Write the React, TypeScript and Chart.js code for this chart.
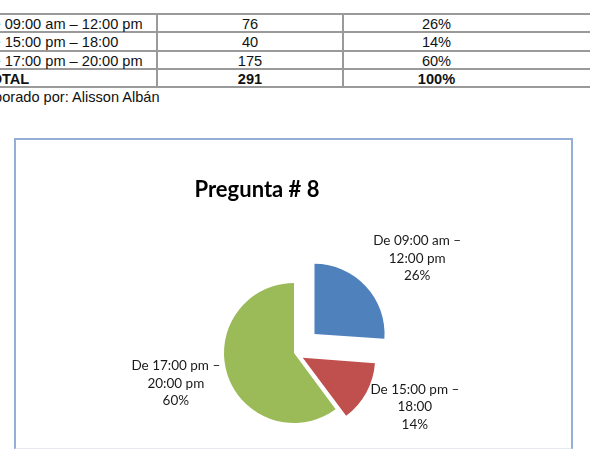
import React, { useEffect, useRef } from 'react';
import { Chart, registerables } from 'chart.js';

Chart.register(...registerables);

// ---- data ----
const categories = ['De 09:00 am – 12:00 pm', 'De 15:00 pm – 18:00', 'De 17:00 pm – 20:00 pm'];
const counts = [76, 40, 175];
const percentLabels = ['26%', '14%', '60%'];
const totalLabel = 'TOTAL';
const totalCount = 291;
const totalPercent = '100%';
const chartTitle = 'Pregunta # 8';
const sourceNote = 'Elaborado por: Alisson Albán';

// ---- style ----
const sliceColors = ['#4F81BD', '#C0504D', '#9BBB59'];
const explodePx = [28, 10, 0];
const labelNudge = [
  [12, -3],
  [3, -2],
  [0, -3],
];
const LABEL_FONT = '13.5px Lato, "Open Sans", sans-serif';
const TITLE_FONT = 'bold 22px Lato, "Open Sans", sans-serif';
const LABEL_LH = 17.5;
const LABEL_GAP = 10;
const LABEL_MAXW = 96;
const TITLE_Y = 50;

function wrap(ctx: CanvasRenderingContext2D, text: string, maxW: number): string[] {
  const words = text.split(' ');
  const lines: string[] = [];
  let cur = '';
  for (const w of words) {
    const t = cur ? cur + ' ' + w : w;
    if (cur && ctx.measureText(t).width > maxW) {
      lines.push(cur);
      cur = w;
    } else cur = t;
  }
  if (cur) lines.push(cur);
  return lines;
}

const sliceLabelPlugin = {
  id: 'sliceLabels',
  afterDatasetsDraw(chart: any) {
    const ctx: CanvasRenderingContext2D = chart.ctx;
    const meta = chart.getDatasetMeta(0);
    const labels: string[] = chart.data.labels;
    const data: number[] = chart.data.datasets[0].data;
    const total = data.reduce((a, b) => a + b, 0);
    ctx.save();
    // title, centred over the whole canvas
    ctx.font = TITLE_FONT;
    ctx.fillStyle = '#000';
    ctx.textAlign = 'center';
    ctx.textBaseline = 'middle';
    ctx.fillText(chartTitle, chart.width / 2, TITLE_Y);
    // slice labels
    ctx.font = LABEL_FONT;
    ctx.fillStyle = '#1a1a1a';
    meta.data.forEach((arc: any, i: number) => {
      const { x, y, startAngle, endAngle, outerRadius } = arc.getProps(
        ['x', 'y', 'startAngle', 'endAngle', 'outerRadius'],
        true
      );
      const mid = (startAngle + endAngle) / 2;
      const cs = Math.cos(mid);
      const sn = Math.sin(mid);
      const off = explodePx[i] || 0;
      const cx = x + cs * off;
      const cy = y + sn * off;
      const lines = [...wrap(ctx, labels[i], LABEL_MAXW), Math.round((data[i] / total) * 100) + '%'];
      const w = Math.max(...lines.map((l) => ctx.measureText(l).width));
      const h = lines.length * LABEL_LH;
      const px = cx + cs * (outerRadius + LABEL_GAP);
      const py = cy + sn * (outerRadius + LABEL_GAP);
      const bx = px + (cs * w) / 2 + labelNudge[i][0];
      const by = py + (sn * h) / 2 + labelNudge[i][1];
      lines.forEach((l, k) => ctx.fillText(l, bx, by - h / 2 + LABEL_LH * (k + 0.5)));
    });
    ctx.restore();
  },
};

function PieChart() {
  const ref = useRef<HTMLCanvasElement>(null);
  useEffect(() => {
    if (!ref.current) return;
    const chart = new Chart(ref.current, {
      type: 'pie',
      data: {
        labels: categories,
        datasets: [
          {
            data: counts,
            backgroundColor: sliceColors,
            borderWidth: 0,
            offset: explodePx.map((p) => p * 4),
          },
        ],
      },
      options: {
        responsive: false,
        animation: false,
        radius: 70,
        layout: { padding: { left: 74, top: 73 } },
        plugins: {
          legend: { display: false },
          tooltip: { enabled: false },
          title: { display: false },
        },
      } as any,
      plugins: [sliceLabelPlugin],
    });
    return () => chart.destroy();
  }, []);
  return (
    <canvas
      ref={ref}
      width={482}
      height={353}
      style={{ position: 'absolute', left: 16, top: 140, width: 482, height: 353 }}
    />
  );
}

const cellBase: React.CSSProperties = {
  border: '2px solid #9a9a9a',
  height: 14.3,
  padding: '2px 5px 0 5px',
  lineHeight: '14.3px',
  whiteSpace: 'nowrap',
};

export default function App() {
  const rows = categories.map((c, i) => [c, String(counts[i]), percentLabels[i]]);
  return (
    <div
      style={{
        position: 'fixed',
        left: 0,
        top: 0,
        width: 590,
        height: 449,
        overflow: 'hidden',
        background: '#fff',
        fontFamily: '"Liberation Sans", Arial, sans-serif',
        fontSize: 14.6,
        color: '#111',
      }}
    >
      <table
        style={{
          position: 'absolute',
          left: -24,
          top: 13,
          borderCollapse: 'collapse',
          tableLayout: 'fixed',
          width: 654,
        }}
      >
        <colgroup>
          <col style={{ width: 180 }} />
          <col style={{ width: 186 }} />
          <col style={{ width: 186 }} />
          <col style={{ width: 102 }} />
        </colgroup>
        <tbody>
          {rows.map((r, i) => (
            <tr key={i}>
              <td style={{ ...cellBase, textAlign: 'left', paddingLeft: 4 }}>{r[0]}</td>
              <td style={{ ...cellBase, textAlign: 'center' }}>{r[1]}</td>
              <td style={{ ...cellBase, textAlign: 'center', borderRight: 'none' }}>{r[2]}</td>
              <td style={{ ...cellBase, borderLeft: 'none' }}></td>
            </tr>
          ))}
          <tr>
            <td style={{ ...cellBase, fontWeight: 'bold', paddingLeft: 4 }}>{totalLabel}</td>
            <td style={{ ...cellBase, fontWeight: 'bold', textAlign: 'center' }}>{totalCount}</td>
            <td style={{ ...cellBase, fontWeight: 'bold', textAlign: 'center', borderRight: 'none' }}>
              {totalPercent}
            </td>
            <td style={{ ...cellBase, borderLeft: 'none' }}></td>
          </tr>
        </tbody>
      </table>
      <div style={{ position: 'absolute', left: -27, top: 89, lineHeight: '17px', whiteSpace: 'nowrap' }}>
        {sourceNote}
      </div>
      <div
        style={{
          position: 'absolute',
          left: 14,
          top: 138,
          width: 555,
          height: 308,
          border: '2px solid #94aed6',
          borderBottom: '2px solid #e6eaf0',
        }}
      />
      <PieChart />
    </div>
  );
}
